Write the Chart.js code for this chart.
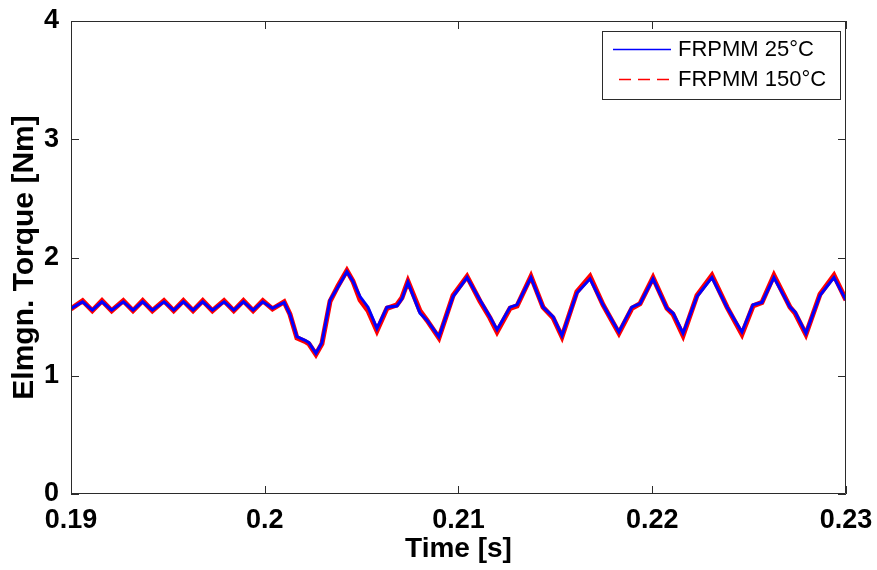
<!DOCTYPE html>
<html>
<head>
<meta charset="utf-8">
<script src="https://cdn.jsdelivr.net/npm/chart.js@4/dist/chart.umd.min.js"></script>
<style>
  html, body { margin: 0; padding: 0; background: #fff; }
  #wrap { width: 877px; height: 570px; position: relative; }
</style>
</head>
<body>
<div id="wrap"><canvas id="torqueChart"></canvas></div>
<script>
// time axis [s]
const time = [
  0.1900, 0.1906, 0.1911, 0.1916, 0.1921, 0.1927, 0.1932, 0.1937, 0.1942, 0.1948,
  0.1953, 0.1958, 0.1963, 0.1968, 0.1973, 0.1979, 0.1984, 0.1989, 0.1994, 0.1999,
  0.2004, 0.2010,
  0.2013, 0.20166, 0.20208, 0.20228, 0.20264, 0.20295, 0.20337, 0.20378, 0.20424, 0.20455,
  0.20492, 0.20533, 0.20579, 0.20631, 0.20682, 0.20708, 0.20739, 0.20801, 0.20837, 0.20899,
  0.20972, 0.21044, 0.21111, 0.21162, 0.21199, 0.21266, 0.21302, 0.21374, 0.21436, 0.21488,
  0.21534, 0.21611, 0.21679, 0.21746, 0.21828, 0.21895, 0.21937, 0.22004, 0.22076, 0.22107,
  0.22159, 0.22231, 0.22308, 0.22386, 0.22463, 0.22520, 0.22566, 0.22628, 0.22711, 0.22737,
  0.22793, 0.22866, 0.22938, 0.2300
];

// electromagnetic torque [Nm], 25 degC
const torque25 = [
  1.57, 1.625, 1.555, 1.625, 1.555, 1.625, 1.555, 1.625, 1.555, 1.625,
  1.555, 1.625, 1.555, 1.625, 1.555, 1.625, 1.555, 1.625, 1.555, 1.625,
  1.57, 1.62,
  1.52, 1.33, 1.30, 1.28, 1.19, 1.28, 1.64, 1.75, 1.88, 1.80,
  1.67, 1.58, 1.40, 1.58, 1.59, 1.65, 1.79, 1.53, 1.47, 1.33,
  1.67, 1.83, 1.64, 1.50, 1.39, 1.58, 1.60, 1.83, 1.58, 1.50,
  1.34, 1.70, 1.82, 1.60, 1.37, 1.58, 1.61, 1.82, 1.57, 1.53,
  1.36, 1.67, 1.83, 1.58, 1.37, 1.60, 1.62, 1.83, 1.58, 1.54,
  1.36, 1.68, 1.83, 1.64
];

// electromagnetic torque [Nm], 150 degC
const torque150 = [
  1.565, 1.635, 1.55, 1.635, 1.55, 1.635, 1.55, 1.635, 1.55, 1.635,
  1.55, 1.635, 1.55, 1.635, 1.55, 1.635, 1.55, 1.635, 1.55, 1.635,
  1.565, 1.625,
  1.52, 1.32, 1.29, 1.27, 1.18, 1.27, 1.63, 1.76, 1.89, 1.80,
  1.64, 1.55, 1.38, 1.57, 1.60, 1.66, 1.80, 1.55, 1.47, 1.32,
  1.68, 1.84, 1.63, 1.49, 1.37, 1.57, 1.59, 1.84, 1.58, 1.49,
  1.33, 1.71, 1.84, 1.60, 1.36, 1.57, 1.61, 1.83, 1.57, 1.52,
  1.34, 1.68, 1.85, 1.58, 1.35, 1.59, 1.62, 1.85, 1.58, 1.53,
  1.35, 1.69, 1.85, 1.64
];

const seriesNames = ['FRPMM 25°C', 'FRPMM 150°C'];
const xTicks = [0.19, 0.2, 0.21, 0.22, 0.23];
const xTickLabels = ['0.19', '0.2', '0.21', '0.22', '0.23'];
const yTicks = [0, 1, 2, 3, 4];

const FONT = '"Liberation Sans", Arial, sans-serif';
const AXIS_COLOR = '#2b2b2b';

const toPoints = (xs, ys) => xs.map((t, i) => ({ x: t, y: ys[i] }));

// box around the axes with matlab style inward ticks
const framePlugin = {
  id: 'frame',
  afterDatasetsDraw(chart) {
    const { ctx, chartArea: a, scales: { x, y } } = chart;
    const len = 8;
    ctx.save();
    ctx.strokeStyle = AXIS_COLOR;
    ctx.lineWidth = 1;
    ctx.beginPath();
    ctx.rect(Math.round(a.left) + 0.5, Math.round(a.top) + 0.5,
             Math.round(a.width) - 1, Math.round(a.height) - 1);
    xTicks.forEach(v => {
      const px = Math.round(x.getPixelForValue(v)) + 0.5;
      ctx.moveTo(px, a.bottom); ctx.lineTo(px, a.bottom - len);
      ctx.moveTo(px, a.top); ctx.lineTo(px, a.top + len);
    });
    yTicks.forEach(v => {
      const py = Math.round(y.getPixelForValue(v)) + 0.5;
      ctx.moveTo(a.left, py); ctx.lineTo(a.left + len, py);
      ctx.moveTo(a.right, py); ctx.lineTo(a.right - len, py);
    });
    ctx.stroke();
    ctx.restore();
  }
};

// legend box in the top right corner
const legendPlugin = {
  id: 'boxLegend',
  afterDraw(chart) {
    const { ctx, chartArea: a } = chart;
    const bx = a.right - 244, by = a.top + 10, bw = 238, bh = 68;
    ctx.save();
    ctx.fillStyle = '#fff';
    ctx.fillRect(bx, by, bw, bh);
    ctx.strokeStyle = AXIS_COLOR;
    ctx.lineWidth = 1;
    ctx.strokeRect(bx + 0.5, by + 0.5, bw, bh);

    const rows = [
      { color: '#0000ff', dash: [], y: by + 18, x0: bx + 11 },
      { color: '#ff0000', dash: [12, 7], y: by + 48, x0: bx + 17 }
    ];
    ctx.font = '22px ' + FONT;
    ctx.textBaseline = 'middle';
    ctx.textAlign = 'left';
    rows.forEach((r, i) => {
      ctx.strokeStyle = r.color;
      ctx.lineWidth = 1.5;
      ctx.setLineDash(r.dash);
      ctx.beginPath();
      ctx.moveTo(r.x0, r.y + 0.5);
      ctx.lineTo(bx + 69, r.y + 0.5);
      ctx.stroke();
      ctx.fillStyle = '#000';
      ctx.fillText(seriesNames[i], bx + 76, r.y + 1);
    });
    ctx.restore();
  }
};

const ctx = document.getElementById('torqueChart').getContext('2d');
const torqueChart = new Chart(ctx, {
  type: 'line',
  data: {
    datasets: [
      {
        label: seriesNames[0],
        data: toPoints(time, torque25),
        borderColor: '#0000ff',
        borderWidth: 3,
        pointRadius: 0,
        tension: 0,
        order: 0
      },
      {
        label: seriesNames[1],
        data: toPoints(time, torque150),
        borderColor: '#ff0000',
        borderWidth: 5,
        pointRadius: 0,
        tension: 0,
        order: 1
      }
    ]
  },
  options: {
    responsive: true,
    maintainAspectRatio: false,
    animation: false,
    layout: { padding: { left: 0, right: 31, top: 21, bottom: 0 } },
    plugins: {
      legend: { display: false },
      tooltip: { enabled: false }
    },
    scales: {
      x: {
        type: 'linear',
        min: 0.19,
        max: 0.23,
        afterBuildTicks: s => { s.ticks = xTicks.map(v => ({ value: v })); },
        afterFit: s => { s.height = 76; },
        grid: { display: false },
        border: { display: false },
        ticks: {
          color: '#000',
          padding: 2,
          maxRotation: 0,
          autoSkip: false,
          font: { family: FONT, size: 27, weight: 'bold' },
          callback: (v, i) => xTickLabels[i]
        },
        title: {
          display: true,
          text: 'Time [s]',
          color: '#000',
          padding: { top: 0, bottom: 4 },
          font: { family: FONT, size: 28, weight: 'bold' }
        }
      },
      y: {
        min: 0,
        max: 4,
        afterBuildTicks: s => { s.ticks = yTicks.map(v => ({ value: v })); },
        afterFit: s => { s.width = 71; },
        grid: { display: false },
        border: { display: false },
        ticks: {
          color: '#000',
          padding: 4,
          font: { family: FONT, size: 27, weight: 'bold' },
          callback: v => String(v)
        },
        title: {
          display: true,
          text: 'Elmgn. Torque [Nm]',
          color: '#000',
          padding: { top: 7, bottom: 0 },
          font: { family: FONT, size: 30, weight: 'bold' }
        }
      }
    }
  },
  plugins: [framePlugin, legendPlugin]
});
</script>
</body>
</html>
